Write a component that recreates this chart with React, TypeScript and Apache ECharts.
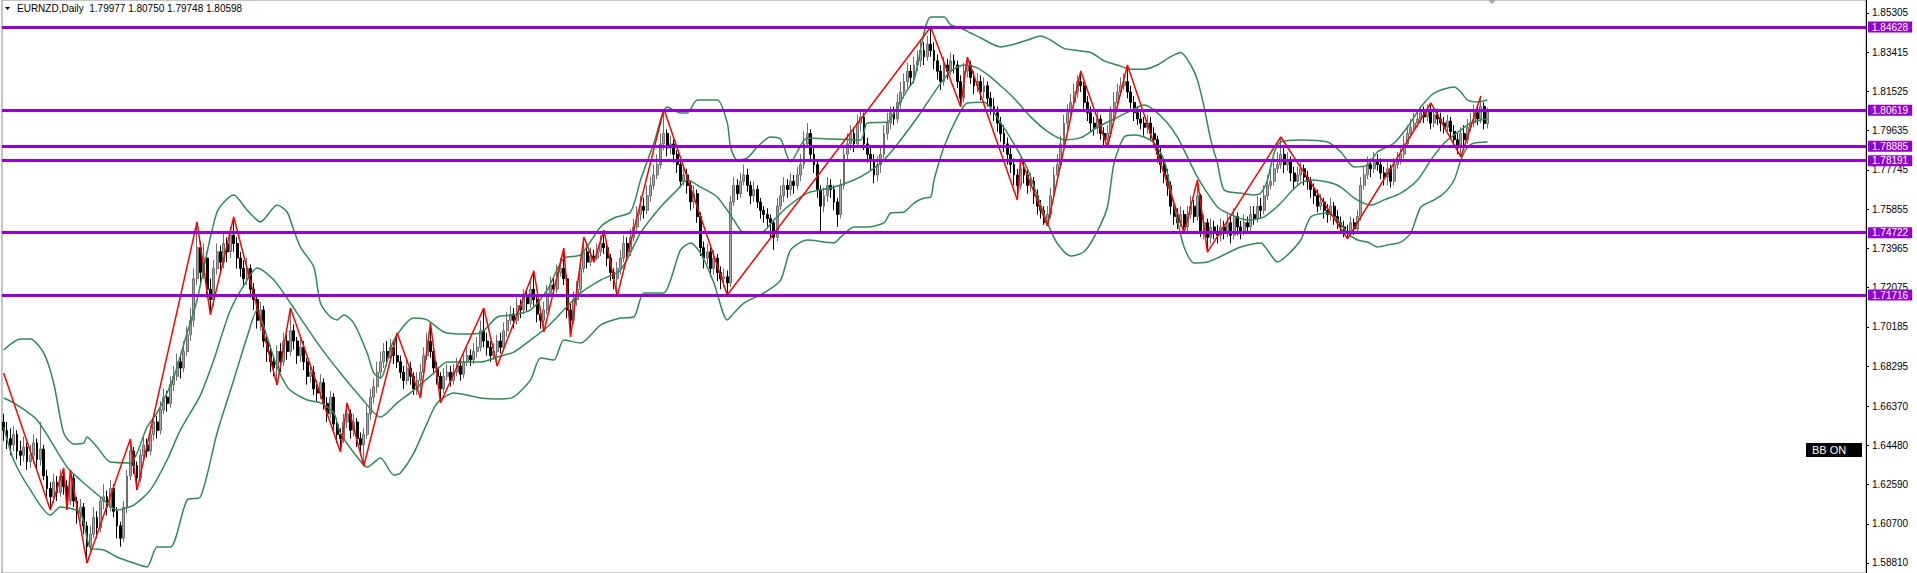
import React, { useEffect, useRef } from "react";
import * as echarts from "echarts";

// ---- data (prices x 1e-4 for bars: [open, high, low, close]) ----
const SLOTS = 559;
const titleText = "EURNZD,Daily  1.79977 1.80750 1.79748 1.80598";
const yTicks = [1.85305, 1.83415, 1.81525, 1.79635, 1.77745, 1.75855, 1.73965, 1.72075, 1.70185, 1.68295, 1.6637, 1.6448, 1.6259, 1.607, 1.5881];
const levels = [1.84628, 1.80619, 1.78885, 1.78191, 1.74722, 1.71716];

const bars: number[][] = [
[16560,16600,16470,16520],[16520,16560,16430,16480],[16480,16530,16400,16450],[16450,16540,16420,16500],[16500,16520,16380,16420],
[16420,16470,16350,16400],[16400,16490,16370,16440],[16440,16460,16330,16370],[16370,16450,16340,16400],[16400,16500,16360,16460],
[16460,16480,16330,16380],[16380,16560,16350,16430],[16430,16450,16280,16300],[16300,16330,16200,16240],[16240,16270,16136,16200],
[16200,16310,16170,16270],[16270,16300,16180,16220],[16220,16330,16200,16300],[16300,16339,16210,16250],[16250,16280,16136,16180],
[16180,16329,16160,16290],[16290,16310,16150,16180],[16180,16200,16070,16120],[16120,16190,16080,16150],[16150,16170,16020,16060],
[16060,16080,15881,15960],[15960,16060,15930,16020],[16020,16150,16000,16100],[16100,16130,16000,16050],[16050,16200,16030,16180],
[16180,16260,16140,16200],[16200,16230,16110,16150],[16150,16280,16130,16240],[16240,16260,16100,16130],[16130,16150,16000,16060],
[16060,16080,15960,16000],[16000,16180,15980,16150],[16150,16330,16120,16300],[16300,16478,16280,16420],[16420,16440,16310,16350],
[16350,16370,16233,16290],[16290,16430,16270,16400],[16400,16490,16370,16450],[16450,16480,16390,16420],[16420,16540,16400,16500],
[16500,16600,16470,16560],[16560,16590,16480,16520],[16520,16660,16500,16620],[16620,16720,16600,16680],[16680,16710,16610,16650],
[16650,16780,16630,16740],[16740,16830,16710,16780],[16780,16890,16760,16850],[16850,16880,16770,16820],[16820,16950,16800,16900],
[16900,17020,16880,16980],[16980,17110,16950,17050],[17050,17300,17020,17250],[17250,17524,17220,17400],[17400,17430,17230,17280],
[17280,17420,17250,17350],[17350,17380,17160,17200],[17200,17250,17076,17150],[17150,17340,17120,17300],[17300,17420,17270,17380],
[17380,17410,17290,17330],[17330,17470,17300,17420],[17420,17450,17330,17380],[17380,17500,17350,17460],[17460,17548,17380,17420],
[17420,17450,17300,17350],[17350,17380,17260,17300],[17300,17340,17210,17250],[17250,17350,17220,17300],[17300,17320,17160,17200],
[17200,17230,17100,17150],[17150,17170,17010,17050],[17050,17140,17000,17100],[17100,17120,16920,16950],[16950,16980,16850,16900],
[16900,16930,16800,16850],[16850,16880,16780,16820],[16820,16930,16738,16900],[16900,16940,16800,16850],[16850,16990,16830,16950],
[16950,16980,16860,16900],[16900,17109,16880,17000],[17000,17030,16910,16950],[16950,16970,16840,16880],[16880,16960,16850,16920],
[16920,16950,16810,16850],[16850,16870,16740,16780],[16780,16840,16750,16800],[16800,16830,16690,16720],[16720,16760,16660,16700],
[16700,16790,16670,16750],[16750,16770,16620,16650],[16650,16680,16560,16600],[16600,16710,16580,16680],[16680,16700,16520,16550],
[16550,16580,16460,16500],[16500,16530,16416,16480],[16480,16600,16460,16560],[16560,16652,16530,16600],[16600,16620,16480,16520],
[16520,16600,16490,16560],[16560,16580,16440,16480],[16480,16510,16400,16450],[16450,16530,16348,16500],[16500,16640,16480,16600],
[16600,16720,16570,16680],[16680,16770,16650,16730],[16730,16850,16700,16800],[16800,16900,16770,16850],[16850,16940,16820,16900],
[16900,16950,16830,16870],[16870,16960,16850,16920],[16920,16950,16840,16880],[16880,16989,16820,16850],[16850,16880,16770,16800],
[16800,16830,16720,16760],[16760,16860,16740,16820],[16820,16850,16740,16780],[16780,16800,16690,16720],[16720,16800,16690,16760],
[16760,16840,16676,16800],[16800,16920,16780,16880],[16880,16990,16860,16950],[16950,17037,16870,16900],[16900,16930,16790,16820],
[16820,16850,16740,16780],[16780,16800,16652,16720],[16720,16820,16700,16780],[16780,16840,16760,16800],[16800,16830,16730,16760],
[16760,16840,16740,16800],[16800,16870,16780,16830],[16830,16860,16760,16790],[16790,16890,16770,16850],[16850,16920,16830,16880],
[16880,16910,16830,16860],[16860,16940,16840,16900],[16900,16970,16870,16920],[16920,17050,16900,17000],[17000,17109,16920,16950],
[16950,16990,16880,16920],[16920,16950,16850,16880],[16880,16940,16860,16900],[16900,16980,16830,16950],[16950,16990,16890,16920],
[16920,17040,16900,17000],[17000,17090,16970,17050],[17050,17120,17030,17080],[17080,17110,17010,17050],[17050,17160,17030,17120],
[17120,17150,17060,17100],[17100,17200,17080,17160],[17160,17190,17090,17130],[17130,17240,17110,17200],[17200,17288,17120,17150],
[17150,17170,17040,17080],[17080,17110,17010,17050],[17050,17140,16994,17100],[17100,17220,17080,17180],[17180,17260,17160,17220],
[17220,17260,17170,17200],[17200,17320,17180,17280],[17280,17350,17260,17300],[17300,17398,17220,17250],[17250,17270,17060,17100],
[17100,17130,16970,17050],[17050,17190,17030,17150],[17150,17240,17120,17200],[17200,17350,17180,17300],[17300,17451,17280,17380],
[17380,17410,17300,17330],[17330,17400,17310,17360],[17360,17390,17330,17350],[17350,17420,17340,17380],[17380,17460,17360,17420],
[17420,17485,17370,17400],[17400,17420,17310,17350],[17350,17370,17240,17280],[17280,17300,17200,17250],[17250,17330,17167,17300],
[17300,17390,17270,17350],[17350,17460,17330,17420],[17420,17450,17340,17380],[17380,17490,17360,17450],[17450,17540,17430,17500],
[17500,17600,17480,17560],[17560,17650,17530,17600],[17600,17640,17540,17580],[17580,17700,17560,17650],[17650,17740,17620,17700],
[17700,17800,17680,17750],[17750,17850,17730,17800],[17800,17950,17780,17900],[17900,18068,17870,17950],[17950,17970,17840,17880],
[17880,17940,17850,17900],[17900,17920,17810,17850],[17850,17870,17760,17800],[17800,17820,17690,17720],[17720,17790,17700,17750],
[17750,17780,17660,17700],[17700,17720,17580,17620],[17620,17700,17590,17660],[17660,17680,17520,17550],[17550,17570,17360,17400],
[17400,17430,17300,17350],[17350,17420,17320,17380],[17380,17400,17260,17300],[17300,17390,17270,17350],[17350,17370,17240,17280],
[17280,17310,17200,17250],[17250,17300,17210,17260],[17260,17290,17172,17230],[17230,17650,17210,17620],[17620,17740,17600,17700],
[17700,17730,17630,17660],[17660,17760,17640,17720],[17720,17800,17700,17750],[17750,17780,17670,17700],[17700,17720,17610,17650],
[17650,17720,17620,17680],[17680,17700,17590,17620],[17620,17640,17540,17580],[17580,17600,17520,17560],[17560,17590,17500,17540],
[17540,17560,17450,17520],[17520,17530,17390,17450],[17450,17640,17430,17600],[17600,17700,17580,17650],[17650,17740,17620,17700],
[17700,17730,17640,17680],[17680,17760,17650,17720],[17720,17750,17660,17700],[17700,17790,17680,17750],[17750,17850,17720,17800],
[17800,17960,17780,17900],[17900,18000,17880,17950],[17950,17970,17820,17850],[17850,17880,17760,17800],[17800,17820,17640,17680],
[17680,17700,17470,17600],[17600,17690,17570,17650],[17650,17740,17620,17700],[17700,17730,17640,17680],[17680,17700,17580,17620],
[17620,17640,17500,17560],[17560,17730,17540,17700],[17700,17880,17680,17850],[17850,17950,17820,17900],[17900,17990,17870,17950],
[17950,17980,17860,17900],[17900,18040,17880,18000],[18000,18060,17960,18030],[18030,18050,17870,17900],[17900,17930,17810,17850],
[17850,17880,17770,17820],[17820,17850,17710,17750],[17750,17840,17720,17800],[17800,17890,17760,17850],[17850,17990,17830,17950],
[17950,18050,17920,18000],[18000,18080,17970,18050],[18050,18080,17990,18020],[18020,18140,18000,18100],[18100,18200,18070,18150],
[18150,18240,18120,18200],[18200,18290,18170,18250],[18250,18280,18180,18220],[18220,18320,18190,18280],[18280,18350,18250,18300],
[18300,18400,18270,18350],[18350,18390,18280,18320],[18320,18420,18300,18380],[18380,18463,18320,18350],[18350,18390,18260,18300],
[18300,18330,18210,18250],[18250,18280,18160,18200],[18200,18320,18180,18280],[18280,18310,18210,18250],[18250,18340,18230,18300],
[18300,18330,18240,18280],[18280,18300,18170,18200],[18200,18230,18079,18120],[18120,18290,18100,18250],[18250,18318,18220,18280],
[18280,18300,18190,18220],[18220,18250,18140,18180],[18180,18240,18150,18200],[18200,18230,18110,18150],[18150,18220,18120,18180],
[18180,18200,18080,18120],[18120,18150,18040,18080],[18080,18120,18010,18050],[18050,18080,17960,18000],[18000,18030,17910,17950],
[17950,17990,17860,17900],[17900,17930,17800,17850],[17850,17880,17760,17800],[17800,17830,17700,17750],[17750,17780,17630,17700],
[17700,17830,17680,17780],[17780,17820,17710,17750],[17750,17780,17660,17700],[17700,17760,17670,17720],[17720,17740,17610,17650],
[17650,17680,17560,17600],[17600,17630,17540,17580],[17580,17600,17510,17520],[17520,17600,17504,17560],[17560,17690,17540,17650],
[17650,17790,17630,17750],[17750,17850,17720,17800],[17800,17940,17780,17900],[17900,18040,17880,18000],[18000,18090,17970,18050],
[18050,18140,18020,18100],[18100,18190,18080,18150],[18150,18230,18120,18200],[18200,18251,18150,18180],[18180,18200,18070,18100],
[18100,18130,18010,18050],[18050,18080,17960,18000],[18000,18030,17940,17980],[17980,18060,17950,18020],[18020,18040,17920,17950],
[17950,17980,17890,17920],[17920,17990,17885,17950],[17950,18080,17930,18050],[18050,18150,18020,18100],[18100,18190,18080,18150],
[18150,18220,18130,18180],[18180,18240,18160,18200],[18200,18280,18120,18150],[18150,18180,18070,18100],[18100,18130,18010,18050],
[18050,18080,17990,18020],[18020,18060,17970,18000],[18000,18030,17940,17980],[17980,18040,17950,18000],[18000,18030,17920,17950],
[17950,17980,17880,17920],[17920,17940,17810,17850],[17850,17880,17760,17800],[17800,17830,17710,17750],[17750,17780,17650,17700],
[17700,17720,17560,17600],[17600,17630,17510,17550],[17550,17590,17490,17520],[17520,17600,17500,17560],[17560,17580,17471,17500],
[17500,17600,17480,17560],[17560,17650,17540,17600],[17600,17630,17520,17550],[17550,17726,17530,17650],[17650,17660,17450,17480],
[17480,17560,17440,17520],[17520,17540,17379,17450],[17450,17540,17420,17500],[17500,17530,17440,17480],[17480,17510,17420,17460],
[17460,17540,17430,17500],[17500,17530,17440,17480],[17480,17560,17450,17520],[17520,17550,17420,17460],[17460,17590,17440,17550],
[17550,17570,17460,17500],[17500,17530,17440,17480],[17480,17560,17460,17520],[17520,17550,17470,17500],[17500,17600,17480,17560],
[17560,17600,17510,17540],[17540,17650,17520,17600],[17600,17640,17540,17580],[17580,17700,17560,17650],[17650,17750,17630,17700],
[17700,17780,17680,17720],[17720,17830,17700,17780],[17780,17860,17760,17800],[17800,17933,17780,17850],[17850,17880,17760,17800],
[17800,17860,17770,17820],[17820,17840,17720,17760],[17760,17790,17680,17720],[17720,17790,17700,17750],[17750,17810,17720,17780],
[17780,17800,17700,17740],[17740,17770,17680,17720],[17720,17740,17640,17680],[17680,17710,17610,17650],[17650,17680,17570,17600],
[17600,17660,17580,17620],[17620,17640,17540,17580],[17580,17610,17520,17560],[17560,17640,17530,17600],[17600,17620,17510,17550],
[17550,17580,17490,17520],[17520,17550,17470,17500],[17500,17530,17450,17480],[17480,17510,17442,17470],[17470,17550,17450,17520],
[17520,17540,17460,17490],[17490,17580,17470,17550],[17550,17740,17530,17700],[17700,17790,17680,17750],[17750,17840,17730,17800],
[17800,17830,17740,17780],[17780,17860,17760,17820],[17820,17850,17770,17800],[17800,17830,17730,17760],[17760,17790,17700,17740],
[17740,17810,17700,17780],[17780,17800,17690,17720],[17720,17830,17700,17800],[17800,17860,17780,17820],[17820,17890,17800,17850],
[17850,17940,17830,17900],[17900,17990,17880,17950],[17950,18020,17930,17980],[17980,18050,17960,18000],[18000,18060,17980,18020],
[18020,18080,18000,18050],[18050,18080,18000,18030],[18030,18090,18010,18060],[18060,18097,17970,18000],[18000,18070,17980,18040],
[18040,18070,17990,18020],[18020,18050,17960,18000],[18000,18030,17950,17980],[17980,18040,17960,18010],[18010,18030,17930,17960],
[17960,17990,17890,17920],[17920,17950,17850,17880],[17880,17980,17837,17950],[17950,17990,17890,17920],[17920,18020,17900,17980],
[17980,18050,17960,18000],[18000,18090,17980,18050],[18050,18080,17990,18020],[18020,18131,18000,18080],[18080,18100,17970,17998],
[17998,18075,17975,18060]
];

const zigzag: number[][] = [
[0,1.6796],[14,1.6136],[18,1.6339],[19,1.6136],[20,1.6329],[25,1.5881],[38,1.6478],[40,1.6233],[58,1.7524],[62,1.7076],
[69,1.7548],[82,1.6738],[86,1.7109],[101,1.6416],[103,1.6652],[108,1.6348],[118,1.6989],[125,1.6676],[128,1.7037],[131,1.6652],
[144,1.7109],[148,1.683],[159,1.7288],[162,1.6994],[168,1.7398],[170,1.697],[174,1.7451],[177,1.733],[180,1.7485],[184,1.7167],
[198,1.8068],[217,1.7172],[278,1.8463],[287,1.8079],[289,1.8318],[304,1.763],[305,1.783],[313,1.7504],[323,1.8251],[331,1.7885],
[337,1.828],[354,1.7471],[358,1.7726],[361,1.7379],[383,1.7933],[403,1.7442],[428,1.8097],[437,1.7837],[443,1.8131]
];

const bbUpper: number[][] = [
[0,1.6907],[5,1.696],[8,1.696],[12,1.6893],[15,1.6748],[18,1.6507],[21,1.6454],[24,1.6459],[25,1.6488],[28,1.644],[32,1.6367],[38,1.6363],[40,1.6411],[43,1.6536],[46,1.6604],[51,1.6777],[55,1.6989],[58,1.7148],[64,1.7572],[69,1.7654],[73,1.7581],[77,1.7524],[82,1.7606],[85,1.7572],[87,1.7485],[89,1.7403],[93,1.7307],[95,1.7133],[98,1.7066],[100,1.7052],[102,1.7076],[105,1.7037],[109,1.6893],[111,1.6796],[113,1.6772],[117,1.6955],[123,1.7061],[127,1.7052],[132,1.6994],[138,1.6984],[143,1.6989],[148,1.7066],[153,1.7076],[158,1.71],[163,1.7196],[168,1.735],[173,1.7365],[179,1.75],[183,1.7543],[188,1.7572],[191,1.7726],[195,1.7904],[199,1.8078],[203,1.8049],[205,1.8049],[208,1.8111],[214,1.8111],[217,1.8001],[218,1.7885],[220,1.7822],[223,1.7832],[226,1.7885],[230,1.7933],[233,1.7923],[236,1.7813],[241,1.7928],[249,1.7923],[257,1.7919],[259,1.8001],[265,1.8005],[267,1.8049],[271,1.816],[273,1.8208],[278,1.8511],[282,1.8511],[284,1.8473],[287,1.8458],[290,1.8434],[293,1.841],[299,1.8367],[303,1.838],[307,1.84],[311,1.842],[314,1.84],[318,1.836],[322,1.835],[326,1.834],[330,1.83],[334,1.828],[338,1.826],[342,1.826],[346,1.828],[350,1.832],[353,1.834],[356,1.828],[358,1.8208],[360,1.8078],[362,1.7919],[364,1.7808],[366,1.7678],[371,1.7663],[375,1.7654],[377,1.7663],[379,1.7726],[381,1.7856],[383,1.7909],[389,1.7919],[397,1.7909],[401,1.7861],[405,1.7789],[409,1.7798],[412,1.7861],[417,1.7904],[421,1.7981],[425,1.8078],[429,1.8145],[435,1.8174],[437,1.815],[439,1.8111],[442,1.8102],[445,1.8111]
];

const bbMiddle: number[][] = [
[0,1.6676],[3,1.6652],[10,1.657],[19,1.6343],[23,1.6281],[29,1.6199],[34,1.6136],[39,1.616],[44,1.6233],[49,1.6377],[53,1.6522],[59,1.669],[63,1.6859],[68,1.71],[73,1.7244],[76,1.7302],[81,1.7244],[85,1.7157],[88,1.7085],[95,1.6921],[101,1.6796],[107,1.6681],[113,1.6584],[118,1.6652],[123,1.6714],[129,1.6796],[133,1.6849],[143,1.6849],[148,1.6873],[153,1.6897],[158,1.6955],[163,1.7018],[168,1.71],[173,1.7182],[179,1.7244],[185,1.7292],[191,1.7471],[197,1.7596],[202,1.7678],[205,1.7726],[209,1.7692],[214,1.7644],[219,1.7533],[222,1.7471],[227,1.7471],[231,1.7533],[235,1.7596],[241,1.7663],[249,1.7692],[255,1.7726],[259,1.776],[264,1.7822],[269,1.7919],[275,1.805],[280,1.817],[284,1.825],[288,1.828],[292,1.8266],[296,1.8222],[299,1.818],[303,1.812],[308,1.803],[313,1.796],[318,1.792],[323,1.793],[328,1.798],[333,1.802],[338,1.806],[342,1.8087],[345,1.8063],[349,1.8001],[352,1.7933],[355,1.7837],[358,1.774],[361,1.7663],[364,1.7596],[367,1.7567],[373,1.7533],[378,1.7548],[383,1.7615],[386,1.7668],[389,1.7712],[392,1.7726],[397,1.7716],[401,1.7692],[405,1.7639],[410,1.7605],[414,1.763],[419,1.7663],[424,1.7726],[428,1.7822],[432,1.7904],[437,1.7967],[440,1.8001],[443,1.8015],[445,1.802]
];

const bbLower: number[][] = [
[0,1.6536],[3,1.6377],[8,1.6233],[14,1.6112],[17,1.6151],[23,1.6122],[26,1.5953],[30,1.5944],[34,1.591],[39,1.5881],[43,1.5862],[46,1.5958],[50,1.5958],[55,1.6184],[59,1.6199],[64,1.6507],[69,1.6763],[73,1.697],[76,1.71],[79,1.697],[82,1.6825],[85,1.6729],[87,1.67],[91,1.6666],[95,1.6652],[99,1.6604],[101,1.6507],[106,1.6392],[109,1.6343],[113,1.6387],[117,1.6305],[119,1.6315],[123,1.6411],[127,1.6555],[130,1.6652],[135,1.67],[143,1.6676],[149,1.6671],[153,1.6681],[158,1.6763],[161,1.6868],[165,1.6859],[168,1.6955],[173,1.6941],[179,1.7027],[185,1.7061],[189,1.7066],[192,1.7182],[198,1.7182],[200,1.7244],[203,1.7389],[206,1.7422],[209,1.7374],[213,1.723],[217,1.7052],[219,1.7085],[222,1.7133],[228,1.7182],[233,1.7244],[236,1.7389],[241,1.7437],[249,1.7423],[251,1.7451],[255,1.75],[259,1.75],[264,1.7519],[266,1.7567],[270,1.7572],[273,1.7615],[276,1.7639],[278,1.7644],[279,1.7726],[282,1.7885],[286,1.8029],[289,1.8097],[294,1.81],[299,1.8],[303,1.79],[307,1.778],[310,1.765],[313,1.752],[316,1.742],[320,1.736],[324,1.738],[328,1.748],[331,1.7596],[333,1.7808],[336,1.7933],[339,1.7943],[342,1.7933],[345,1.7904],[348,1.7822],[350,1.7678],[352,1.7533],[354,1.7403],[357,1.7326],[361,1.7331],[364,1.735],[367,1.7374],[371,1.7403],[377,1.7423],[379,1.7389],[382,1.7331],[385,1.7365],[389,1.7437],[392,1.7548],[397,1.7567],[400,1.7533],[403,1.7471],[406,1.7437],[409,1.7427],[412,1.7403],[415,1.7413],[419,1.7427],[422,1.7471],[425,1.7596],[429,1.763],[432,1.7663],[435,1.7726],[437,1.7822],[439,1.7885],[441,1.7904],[445,1.7909]
];

const Y_MIN = 1.58328;
const Y_MAX = 1.85931;
const FONT = '"Liberation Sans", Arial, sans-serif';
const PURPLE = "#9400D3";
const GREEN = "#2E8B57";

export default function App() {
  const ref = useRef<HTMLDivElement>(null);
  useEffect(() => {
    const chart = echarts.init(ref.current!, null, { renderer: "svg" });
    const categories = Array.from({ length: SLOTS }, (_, i) => String(i));
    const candleData = bars.map((b) => [b[0] / 1e4, b[3] / 1e4, b[2] / 1e4, b[1] / 1e4]);
    const bandSeries = (name: string, data: number[][]) => ({
      name,
      type: "line",
      data,
      symbol: "none",
      smooth: 0.25,
      z: 3,
      lineStyle: { color: GREEN, width: 1.5 },
      silent: true,
    });
    chart.setOption({
      animation: false,
      backgroundColor: "#ffffff",
      grid: { left: 2, top: 0, width: 1864, height: 573, show: true, borderColor: "#8a8a8a", borderWidth: 1, backgroundColor: "transparent" },
      xAxis: {
        type: "category",
        data: categories,
        boundaryGap: true,
        show: false,
      },
      yAxis: {
        type: "value",
        position: "right",
        min: Y_MIN,
        max: Y_MAX,
        splitLine: { show: false },
        axisLine: { show: true, lineStyle: { color: "#000000", width: 1 } },
        axisTick: { show: true, length: 3, customValues: yTicks, lineStyle: { color: "#000000" } },
        axisLabel: {
          show: true,
          customValues: yTicks,
          formatter: (v: number) => v.toFixed(5),
          fontSize: 10,
          fontFamily: FONT,
          color: "#000000",
          margin: 6,
        },
      },
      series: [
        {
          name: "EURNZD",
          type: "candlestick",
          data: candleData,
          barWidth: 2.4,
          z: 2,
          silent: true,
          itemStyle: {
            color: "#a6a6a6",
            color0: "#000000",
            borderColor: "#6e6e6e",
            borderColor0: "#000000",
            borderWidth: 1,
          },
        },
        bandSeries("BB upper", bbUpper),
        bandSeries("BB middle", bbMiddle),
        bandSeries("BB lower", bbLower),
        {
          name: "ZigZag",
          type: "line",
          data: zigzag,
          symbol: "none",
          z: 4,
          silent: true,
          lineStyle: { color: "#ff0000", width: 1.5 },
          markLine: {
            silent: true,
            precision: 5,
            symbol: ["none", "none"],
            animation: false,
            lineStyle: { color: PURPLE, width: 3, type: "solid" },
            label: {
              show: true,
              position: "end",
              distance: 2,
              formatter: (p: any) => Number(p.value).toFixed(5),
              backgroundColor: PURPLE,
              color: "#ffffff",
              fontSize: 10,
              fontFamily: FONT,
              lineHeight: 11,
              padding: [0, 4, 0, 4],
            },
            emphasis: { disabled: true },
            data: levels.map((v) => ({ yAxis: v })),
          },
        },
      ],
      graphic: [
        { type: "polygon", shape: { points: [[5, 7], [10, 7], [7.5, 10]] }, style: { fill: "#000000" } },
        { type: "text", left: 17, top: 3, style: { text: titleText, font: `10px ${FONT}`, fill: "#000000" } },
        { type: "polygon", shape: { points: [[1488, 0], [1496, 0], [1492, 4]] }, style: { fill: "#a8a8a8" } },
        { type: "rect", shape: { x: 1806, y: 443, width: 56, height: 14 }, style: { fill: "#000000" } },
        { type: "text", x: 1812, y: 444, style: { text: "BB ON", font: `11px ${FONT}`, fill: "#ffffff" } },
      ],
    });
    return () => chart.dispose();
  }, []);
  return (
    <div
      ref={ref}
      style={{ position: "fixed", left: 0, top: 0, width: 1917, height: 573, background: "#ffffff" }}
    />
  );
}
